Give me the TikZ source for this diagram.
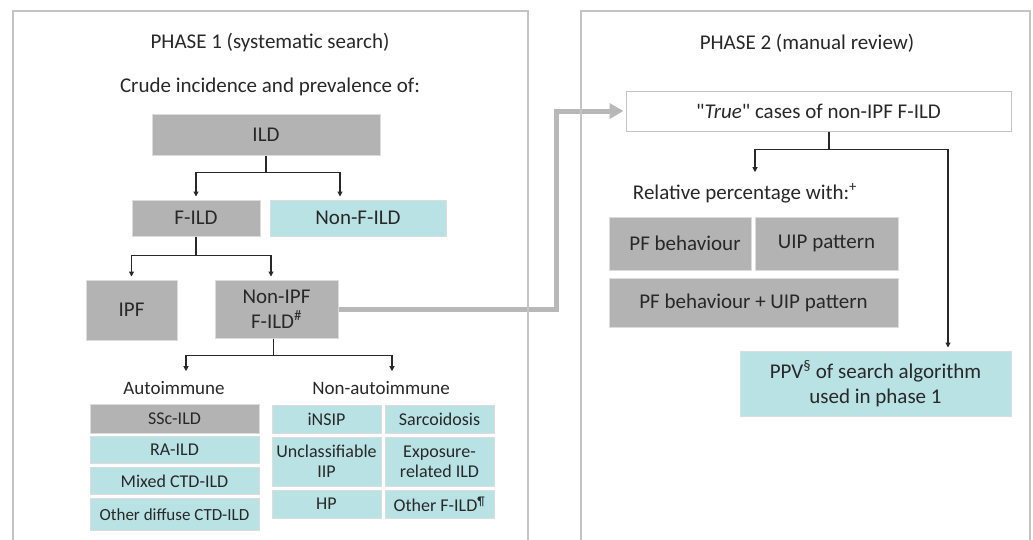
\documentclass[tikz,border=0pt]{standalone}
\usepackage{fontspec}
\setmainfont{Carlito}
\usetikzlibrary{arrows.meta,positioning}
\definecolor{boxgray}{RGB}{179,179,179}
\definecolor{aqua}{RGB}{185,226,228}
\definecolor{edge}{RGB}{220,220,220}
\definecolor{frame}{RGB}{196,196,196}
\definecolor{ink}{RGB}{40,40,40}
\definecolor{pipegray}{RGB}{184,184,184}
\tikzset{
  >={Triangle[length=5pt,width=5pt]},
  box/.style={fill=#1,draw=edge,line width=1pt,text=ink,align=center,inner sep=0pt,
    font=\fontsize{21}{25}\selectfont},
  box/.default=boxgray,
  small box/.style={box=#1,font=\fontsize{18}{20}\selectfont},
  small box/.default=aqua,
  branch/.style={->,line width=1.1pt,draw=ink,shorten >=3pt},
  pipe/.style={-{Triangle[length=14pt,width=15pt]},line width=5pt,draw=pipegray,shorten >=2pt},
  panel/.style={draw=frame,line width=1.3pt},
  heading/.style={text=ink,inner sep=0pt,font=\fontsize{21}{25}\selectfont},
  subheading/.style={heading,font=\fontsize{19}{22}\selectfont},
}

\begin{document}
\begin{tikzpicture}[x=1pt,y=-1pt]
  \useasboundingbox (0,0) rectangle (1033,539);
  % phase 1
  \node[heading] (ph1) at (270,43) {PHASE 1 (systematic search)};
  \node[heading] (crude) at (270,87) {Crude incidence and prevalence of:};
  \node[box,minimum width=228pt,minimum height=41pt] (ild) at (266,134.5) {ILD};
  \node[box,minimum width=128pt,minimum height=36pt] (fild) at (196,218) {F-ILD};
  \node[box=aqua,minimum width=176pt,minimum height=36pt] (nfild) at (358,218) {Non-F-ILD};
  \node[box,minimum width=91pt,minimum height=60pt] (ipf) at (131.5,310) {IPF};
  \node[box,minimum width=123pt,minimum height=58pt] (nipf) at (276.5,309) {Non-IPF\\F-ILD\textsuperscript{\#}};
  \node[subheading] (auto) at (174,388) {Autoimmune};
  \node[subheading] (nauto) at (381,388) {Non-autoimmune};
  % autoimmune list
  \node[small box=boxgray,minimum width=169pt,minimum height=29pt] (ssc) at (174.5,418.5) {SSc-ILD};
  \node[small box,minimum width=169pt,minimum height=27pt] (ra) at (174.5,449.8) {RA-ILD};
  \node[small box,minimum width=169pt,minimum height=27pt] (mctd) at (174.5,481) {Mixed CTD-ILD};
  \node[small box,minimum width=169pt,minimum height=32pt,font=\fontsize{17}{20}\selectfont] (octd) at (174.5,514.2) {Other diffuse CTD-ILD};
  % non-autoimmune grid
  \node[small box,minimum width=109pt,minimum height=28pt] (insip) at (326.5,419) {iNSIP};
  \node[small box,minimum width=109pt,minimum height=28pt] (sarc) at (439.5,419) {Sarcoidosis};
  \node[small box,minimum width=109pt,minimum height=49pt] (uiip) at (326.5,461.5) {Unclassifiable\\IIP};
  \node[small box,minimum width=109pt,minimum height=49pt] (expo) at (439.5,461.5) {Exposure-\\related ILD};
  \node[small box,minimum width=109pt,minimum height=28pt] (hp) at (326.5,504) {HP};
  \node[small box,minimum width=109pt,minimum height=28pt] (ofild) at (439.5,504) {Other F-ILD\textsuperscript{¶}};
  % phase 2
  \node[heading] (ph2) at (807,43) {PHASE 2 (manual review)};
  \node[box=white,draw=frame,minimum width=385pt,minimum height=40pt] (true) at (818.5,111) {\textquotedbl\textit{True}\textquotedbl{} cases of non-IPF F-ILD};
  \node[heading] (rel) at (745,193) {Relative percentage with:\textsuperscript{+}};
  \node[box,minimum width=142pt,minimum height=53pt] (pfb) at (680,243.5) {\hspace*{10pt}PF behaviour};
  \node[box,minimum width=143pt,minimum height=53pt] (uip) at (826.5,243.5) {UIP pattern};
  \node[box,minimum width=289pt,minimum height=49pt] (both) at (753.5,302.5) {PF behaviour + UIP pattern};
  \node[box=aqua,minimum width=271pt,minimum height=65pt] (ppv) at (875.5,383.5) {PPV\textsuperscript{\S} of search algorithm\\used in phase 1};
  % connectors
  \draw[branch] (ild.south) -- ++(0,17) -| (fild.north);
  \draw[branch] (ild.south) -- ++(0,17) -| ([xshift=-18pt]nfild.north);
  \draw[branch] (fild.south) -- ++(0,19) -| (ipf.north);
  \draw[branch] (fild.south) -- ++(0,19) -| ([xshift=-5.5pt]nipf.north);
  \draw[branch,shorten >=10pt] ([xshift=-3pt]nipf.south) -- ++(0,17) -| ([xshift=12pt]auto.north);
  \draw[branch,shorten >=10pt] ([xshift=-3pt]nipf.south) -- ++(0,17) -| ([xshift=11pt]nauto.north);
  \draw[branch,shorten >=11pt] ([xshift=10.5pt]true.south) -- ++(0,18) -| ([xshift=10pt]rel.north);
  \draw[branch] ([xshift=10.5pt]true.south) -- ++(0,18) -| ([xshift=72.5pt]ppv.north);
  \draw[pipe] (nipf.east) -- ++(218,0) |- (true.west);
  % panels
  \draw[panel] (13,541) -- (13,11) -- (528,11) -- (528,541);
  \draw[panel] (581,541) -- (581,11) -- (1030,11) -- (1030,541);
\end{tikzpicture}
\end{document}
